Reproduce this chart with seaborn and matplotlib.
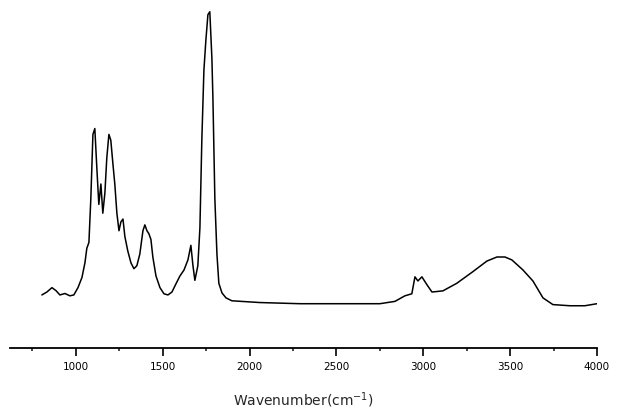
import numpy as np
import pandas as pd
import matplotlib
matplotlib.use("Agg")
import matplotlib.pyplot as plt
import seaborn as sns
from matplotlib.ticker import MultipleLocator

# FTIR spectrum, values
wavenumber = [804, 833, 862, 885, 908, 937, 965, 988, 1012, 1035, 1052, 1063, 1075, 1086,
              1098, 1109, 1121, 1132, 1144, 1155, 1167, 1178, 1190, 1201, 1213, 1224, 1236,
              1248, 1259, 1271, 1282, 1299, 1317, 1334, 1351, 1368, 1386, 1397, 1409, 1420,
              1432, 1443, 1461, 1484, 1507, 1530, 1553, 1576, 1599, 1622, 1645, 1662, 1674,
              1685, 1702, 1714, 1725, 1737, 1748, 1760, 1771, 1783, 1789, 1800, 1812, 1823,
              1841, 1864, 1898, 2059, 2290, 2577, 2750, 2837, 2894, 2934, 2952, 2969, 2992,
              3021, 3050, 3113, 3193, 3286, 3366, 3424, 3470, 3510, 3573, 3631, 3689, 3746,
              3844, 3930, 4000]
intensity = [0.03, 0.04, 0.055, 0.045, 0.03, 0.035, 0.027, 0.03, 0.055, 0.09, 0.14, 0.19, 0.21, 0.36,
             0.58, 0.60, 0.46, 0.34, 0.41, 0.31, 0.38, 0.50, 0.58, 0.56, 0.48, 0.41, 0.31,
             0.25, 0.28, 0.29, 0.23, 0.18, 0.14, 0.12, 0.13, 0.17, 0.25, 0.27, 0.25, 0.24,
             0.22, 0.16, 0.095, 0.055, 0.034, 0.03, 0.04, 0.068, 0.095, 0.115, 0.15, 0.20, 0.13,
             0.08, 0.13, 0.26, 0.56, 0.80, 0.90, 0.99, 1.00, 0.84, 0.70, 0.36, 0.17, 0.07,
             0.037, 0.02, 0.01, 0.004, 0.0, 0.0, 0.0, 0.008, 0.027, 0.034, 0.092, 0.078, 0.092,
             0.065, 0.04, 0.044, 0.07, 0.11, 0.146, 0.16, 0.16, 0.15, 0.116, 0.078, 0.02, -0.003,
             -0.007, -0.007, 0.0]

df = pd.DataFrame({"Wavenumber": wavenumber, "Intensity": intensity})

sns.set_style("white")
plt.rcParams['font.family'] = ['DejaVu Sans']

fig = plt.figure(figsize=(6.18, 4.10), dpi=100)
ax = fig.add_axes([0.016, 0.15, 0.95, 0.826])
sns.lineplot(data=df, x="Wavenumber", y="Intensity", color="black", linewidth=1.1, ax=ax)

ax.set_xlim(620, 4000)
ax.set_ylim(-0.15, 1.01)
ax.xaxis.set_major_locator(MultipleLocator(500))
ax.xaxis.set_minor_locator(MultipleLocator(250))
ax.set_xticks([1000, 1500, 2000, 2500, 3000, 3500, 4000])
ax.tick_params(axis="x", which="major", direction="out", length=6, width=1.2,
               labelsize=7.5, colors="black", pad=4, bottom=True)
ax.tick_params(axis="x", which="minor", direction="out", length=2.5, width=1.2, bottom=True)
ax.set_yticks([])
ax.set_ylabel("")
ax.set_xlabel("Wavenumber(cm$^{-1}$)", fontsize=10, labelpad=13)

sns.despine(ax=ax, left=True, top=True, right=True)
ax.spines["bottom"].set_color("black")
ax.spines["bottom"].set_linewidth(1.3)

fig.savefig("out.png", dpi=100)
